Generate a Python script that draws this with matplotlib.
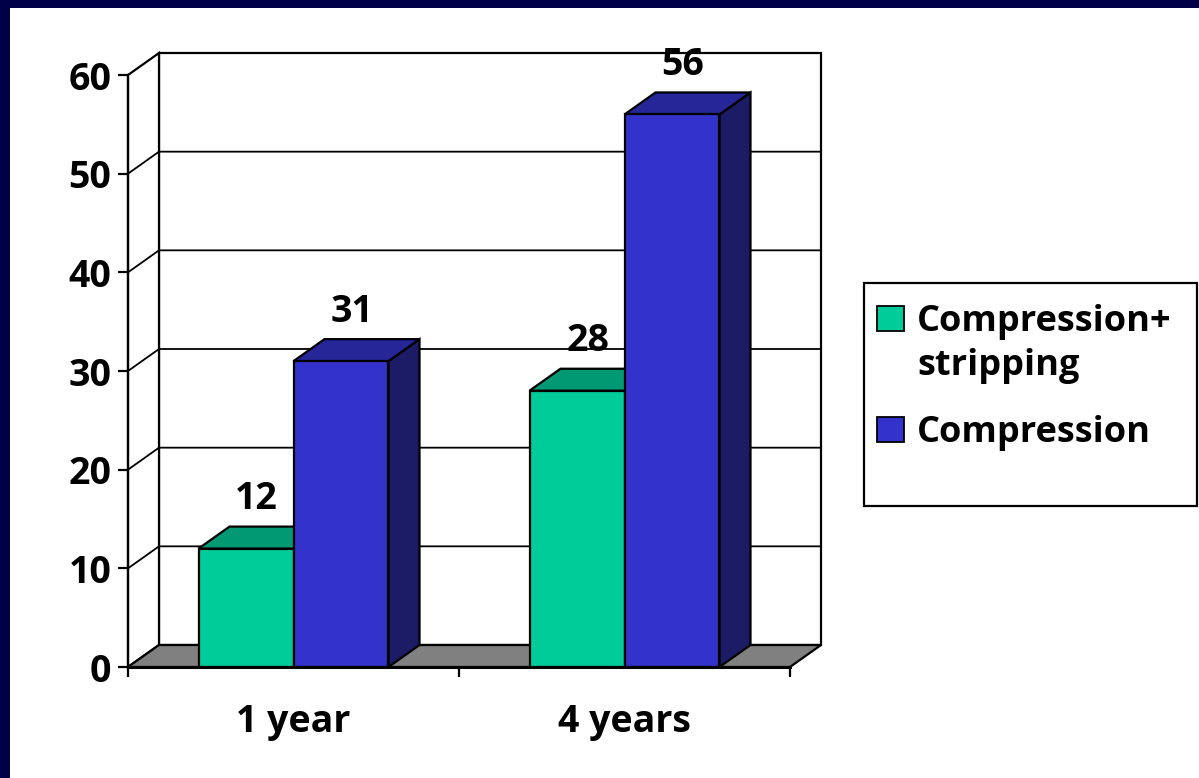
import matplotlib.pyplot as plt
from matplotlib.patches import Polygon, Rectangle

plt.rcParams['font.family'] = ['Open Sans', 'DejaVu Sans']
plt.rcParams['font.weight'] = 'bold'

# data
categories = ['1 year', '4 years']
series_names = ['Compression+\nstripping', 'Compression']
strip_vals = [12, 28]
comp_vals = [31, 56]
y_ticks = [0, 10, 20, 30, 40, 50, 60]

# face colours: front, top, side
strip_colors = ('#00CC99', '#009973', '#006B50')
comp_colors = ('#3333CC', '#262699', '#1C1C66')

W, H = 1199, 778
fig = plt.figure(figsize=(W / 100, H / 100), dpi=100)
fig.patch.set_facecolor('#000048')
fig.add_artist(Rectangle((10 / W, 0), 1, (H - 8) / H, transform=fig.transFigure,
                         facecolor='white', edgecolor='none', zorder=-10))

ax = fig.add_axes([128 / W, 111 / H, 662 / W, 592 / H])
ax.set_xlim(-0.5, 1.5)
ax.set_ylim(0, 60)
ax.patch.set_visible(False)

# depth of the 3d box in data units
dx = 31 / 331
dy = 22 * 60 / 592
lw = 1.6

# walls and floor
x0, x1 = -0.5, 1.5
ax.add_patch(Rectangle((x0 + dx, dy), x1 - x0, 60, facecolor='white',
                       edgecolor='black', lw=lw, zorder=0.5, clip_on=False))
ax.add_patch(Polygon([(x0, 0), (x0 + dx, dy), (x0 + dx, 60 + dy), (x0, 60)],
                     facecolor='white', edgecolor='black', lw=lw, zorder=0.5,
                     clip_on=False))
for t in y_ticks[1:-1]:
    ax.plot([x0, x0 + dx, x1 + dx], [t, t + dy, t + dy], color='black',
            lw=1.3, zorder=0.6, clip_on=False)
ax.add_patch(Polygon([(x0, 0), (x1, 0), (x1 + dx, dy), (x0 + dx, dy)],
                     facecolor='#808080', edgecolor='black', lw=lw, zorder=0.7,
                     clip_on=False))

# bars
w = 0.287
for k, (vals, cols, off) in enumerate([(strip_vals, strip_colors, -w / 2),
                                        (comp_vals, comp_colors, w / 2)]):
    for i, v in enumerate(vals):
        xc = i + off
        l, r = xc - w / 2, xc + w / 2
        ax.add_patch(Polygon([(r, 0), (r + dx, dy), (r + dx, v + dy), (r, v)],
                             facecolor=cols[2], edgecolor='black', lw=lw,
                             zorder=1, clip_on=False))
        ax.add_patch(Polygon([(l, v), (r, v), (r + dx, v + dy), (l + dx, v + dy)],
                             facecolor=cols[1], edgecolor='black', lw=lw,
                             zorder=1, clip_on=False))
        ax.bar(xc, v, width=w, color=cols[0], edgecolor='black', lw=lw,
               zorder=1, clip_on=False)
        ax.annotate(str(v), (xc + dx / 2 - 0.015, v + dy), xytext=(0, 6),
                    textcoords='offset points', ha='center', va='bottom',
                    fontsize=27, fontweight='bold', zorder=3)

# axes
for s in ['top', 'right']:
    ax.spines[s].set_visible(False)
ax.spines['left'].set_linewidth(lw)
ax.spines['bottom'].set_linewidth(2.2)
ax.spines['left'].set_zorder(2)
ax.spines['bottom'].set_zorder(2)
ax.set_yticks(y_ticks)
ax.tick_params(axis='y', length=7, width=lw, pad=5, labelsize=27)
ax.set_xticks([-0.5, 0.5, 1.5])
ax.set_xticklabels([])
ax.tick_params(axis='x', which='major', length=7, width=lw)
ax.set_xticks([0, 1], categories, minor=True)
ax.tick_params(axis='x', which='minor', length=0, pad=26, labelsize=27)

# legend box
fig.add_artist(Rectangle((864 / W, 1 - 506 / H), 333 / W, 223 / H,
                         transform=fig.transFigure, facecolor='white',
                         edgecolor='black', lw=lw))
for i, (name, cols) in enumerate(zip(series_names, [strip_colors, comp_colors])):
    top = 306 + i * 111
    fig.add_artist(Rectangle((877 / W, 1 - (top + 25) / H), 27 / W, 25 / H,
                             transform=fig.transFigure, facecolor=cols[0],
                             edgecolor='black', lw=1.3))
    fig.text(917 / W, 1 - (top - 2) / H, name, fontsize=26, fontweight='bold',
             va='top', ha='left', linespacing=1.3)

fig.savefig('out.png', dpi=100)
